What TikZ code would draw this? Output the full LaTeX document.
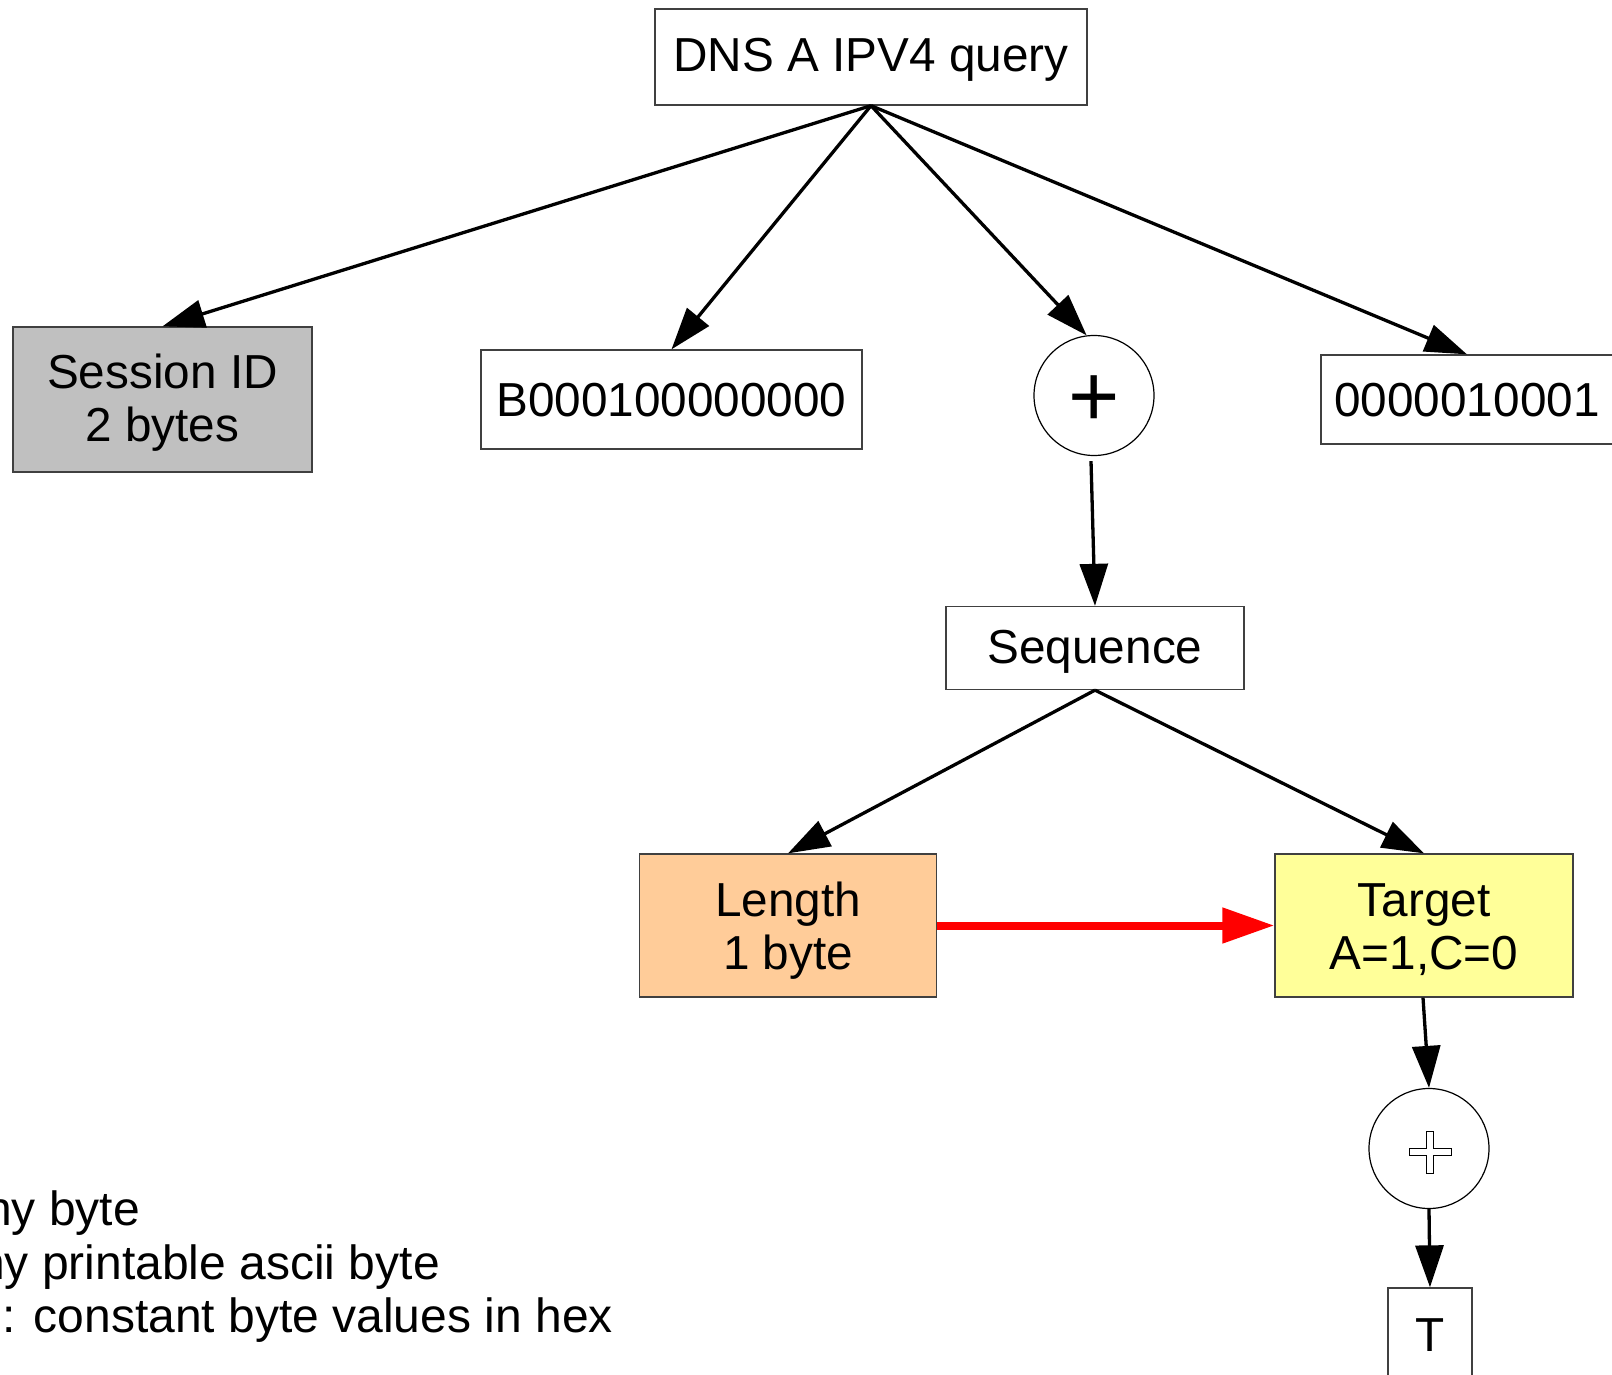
\documentclass[tikz,border=0pt]{standalone}
\usepackage{fontspec}
\setmainfont{Liberation Sans}
\usetikzlibrary{arrows.meta}
\definecolor{sgray}{HTML}{C0C0C0}
\definecolor{lorange}{HTML}{FFCC99}
\definecolor{lyellow}{HTML}{FFFF99}
\definecolor{bordergray}{HTML}{404040}
\begin{document}
\begin{tikzpicture}[x=1pt,y=-1pt,
  box/.style={draw=bordergray, line width=1.3pt, inner sep=0pt},
  txt/.style={inner sep=0pt, align=center, font=\fontsize{47.7}{53}\selectfont},
  circ/.style={circle, draw=black, line width=1.2pt, minimum size=120pt, inner sep=0pt},
  arr/.style={line width=3.3pt, -{Triangle[length=42pt,width=28pt]}},
  redarr/.style={line width=8pt, draw={rgb,255:red,255;green,0;blue,0}, -{Triangle[length=52pt,width=34pt]}},
  legend/.style={inner sep=0pt, font=\fontsize{48}{53}\selectfont},
  plusglyph/.style={inner sep=0pt, font=\fontsize{88}{88}\selectfont}]
\useasboundingbox (0,0) rectangle (1612,1375);
\fill[white] (0,0) rectangle (1612,1375);

% boxes
\node[box, minimum width=432pt, minimum height=96pt] (dns) at (871,57) {};
\node[box, fill=sgray, minimum width=299pt, minimum height=145pt] (sid) at (162.5,399.5) {};
\node[box, minimum width=381pt, minimum height=99pt] (bconst) at (671.5,399.5) {};
\node[circ] (c1) at (1094,395.5) {};
\node[box, minimum width=292pt, minimum height=89pt] (cconst) at (1467,399.5) {};
\node[box, minimum width=298pt, minimum height=83pt] (seq) at (1095,648) {};
\node[box, fill=lorange, minimum width=297pt, minimum height=143pt] (len) at (788,925.5) {};
\node[box, fill=lyellow, minimum width=298pt, minimum height=143pt] (tgt) at (1424,925.5) {};
\node[circ] (c2) at (1429,1148.5) {};
\node[box, minimum width=84pt, minimum height=90pt] (tbox) at (1430,1333) {};

% texts
\node[txt] (dnst) at ([yshift=-3pt]dns.center) {DNS A IPV4 query};
\node[txt] (sidt) at ([yshift=-3.5pt]sid.center) {Session ID\\2 bytes};
\node[txt] (bconstt) at ([yshift=-1pt]bconst.center) {B000100000000};
\node[plusglyph] (p1) at (1094,401) {+};
\node[txt] (cconstt) at ([yshift=-1pt]cconst.center) {0000010001};
\node[txt] (seqt) at ([yshift=-4pt]seq.center) {Sequence};
\node[txt] (lent) at ([yshift=-5pt]len.center) {Length\\1 byte};
\node[txt] (tgtt) at ([yshift=-4pt]tgt.center) {Target\\A=1,C=0};
\node[txt] (tt) at ([yshift=-2pt]tbox.center) {T};
\draw[line width=0.9pt, fill=white]
  (1426.6,1131) -- (1433.4,1131) -- (1433.4,1148.6) -- (1451,1148.6) -- (1451,1155.4)
  -- (1433.4,1155.4) -- (1433.4,1173) -- (1426.6,1173) -- (1426.6,1155.4) -- (1409,1155.4)
  -- (1409,1148.6) -- (1426.6,1148.6) -- cycle;

% legend
\node[legend, anchor=base east] (l1) at (140,1225) {ny byte};
\node[legend, anchor=base east] (l2) at (440,1279) {ny printable ascii byte};
\node[legend, anchor=base east] (l3) at (613,1332) {: constant byte values in hex};

% connectors
\draw[arr] (dns.south) -- (sid.north);
\draw[arr] (dns.south) -- (bconst.north);
\draw[arr] (dns.south) -- (c1.97);
\draw[arr] (dns.south) -- (cconst.north);
\draw[arr] ([shift={(-3,5)}]c1.south) -- (seq.north);
\draw[arr] (seq.south) -- (len.north);
\draw[arr] (seq.south) -- (tgt.north);
\draw[redarr] (len.east) -- (tgt.west);
\draw[arr] ([xshift=-1pt]tgt.south) -- (c2.north);
\draw[arr] (c2.south) -- (tbox.north);
\end{tikzpicture}
\end{document}
